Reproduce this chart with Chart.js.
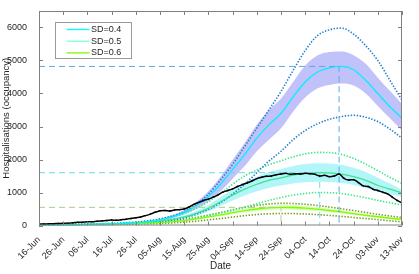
<!DOCTYPE html>
<html>
<head>
<meta charset="utf-8">
<script src="https://cdn.jsdelivr.net/npm/chart.js@4"></script>
<style>
  html, body { margin: 0; padding: 0; background: #fff; }
  #wrap { width: 419px; height: 274px; }
</style>
</head>
<body>
<div id="wrap"><canvas id="canvas" width="419" height="274"></canvas></div>
<script>
'use strict';

const dateLabels = ['16-Jun', '26-Jun', '06-Jul', '16-Jul', '26-Jul', '05-Aug', '15-Aug', '25-Aug',
  '04-Sep', '14-Sep', '24-Sep', '04-Oct', '14-Oct', '24-Oct', '03-Nov', '13-Nov'];
const dateTicks = [0, 10, 20, 30, 40, 50, 60, 70, 80, 90, 100, 110, 120, 130, 140, 150];
const yTicks = [0, 1000, 2000, 3000, 4000, 5000, 6000];

// days since 16-Jun
const modelDays = [0, 5, 10, 15, 20, 25, 30, 35, 40, 45, 50, 55, 60, 65, 70, 75, 80, 85, 90, 95,
  100, 105, 110, 115, 120, 125, 130, 135, 140, 145, 150];

const sd04Median = [20, 22, 25, 30, 35, 42, 50, 65, 85, 120, 170, 260, 400, 600, 880, 1250, 1700, 2150, 2650, 3050,
  3400, 3900, 4350, 4650, 4780, 4820, 4720, 4400, 4000, 3600, 3250];
const sd04BandHi = [22, 25, 28, 34, 40, 48, 58, 75, 100, 140, 200, 310, 470, 710, 1040, 1470, 1990, 2500, 3050, 3500,
  3850, 4350, 4850, 5150, 5260, 5270, 5160, 4900, 4480, 4080, 3680];
const sd04BandLo = [18, 20, 22, 26, 30, 36, 43, 55, 72, 100, 140, 215, 330, 500, 730, 1040, 1420, 1800, 2250, 2600,
  2950, 3450, 3880, 4150, 4260, 4300, 4240, 4000, 3620, 3250, 2880];
const sd04Upper = [22, 25, 28, 33, 40, 48, 60, 75, 100, 140, 200, 290, 420, 640, 950, 1380, 1850, 2400, 2950, 3500,
  4060, 4700, 5300, 5750, 5930, 5980, 5800, 5450, 5000, 4400, 3800];
const sd04Lower = [16, 18, 20, 22, 26, 30, 36, 45, 58, 80, 110, 160, 230, 340, 490, 690, 950, 1250, 1600, 1950,
  2250, 2600, 2880, 3080, 3220, 3300, 3340, 3280, 3150, 2920, 2650];

const sd05Median = [20, 22, 25, 28, 33, 40, 48, 60, 77, 100, 135, 185, 260, 370, 520, 720, 920, 1100, 1250, 1370,
  1440, 1530, 1580, 1600, 1595, 1560, 1480, 1370, 1220, 1100, 990];
const sd05BandHi = [22, 25, 28, 32, 38, 46, 56, 70, 90, 118, 160, 220, 310, 440, 620, 860, 1090, 1300, 1480, 1620,
  1710, 1800, 1860, 1885, 1880, 1840, 1750, 1620, 1450, 1270, 1080];
const sd05BandLo = [18, 20, 22, 25, 29, 35, 41, 51, 65, 85, 112, 155, 215, 305, 420, 590, 760, 910, 1040, 1140,
  1210, 1270, 1310, 1325, 1320, 1290, 1230, 1140, 1030, 950, 870];
const sd05Upper = [25, 28, 32, 37, 44, 53, 65, 82, 106, 140, 190, 265, 370, 520, 720, 980, 1250, 1500, 1680, 1840,
  1960, 2080, 2170, 2215, 2210, 2150, 2030, 1860, 1660, 1460, 1275];
const sd05Lower = [15, 17, 19, 21, 24, 28, 33, 40, 50, 65, 85, 115, 160, 220, 300, 390, 460, 560, 660, 760,
  850, 920, 970, 1000, 995, 970, 910, 840, 760, 690, 620];

const sd06Median = [18, 20, 22, 25, 29, 34, 40, 48, 58, 72, 90, 115, 150, 200, 260, 320, 390, 450, 500, 535,
  550, 545, 525, 495, 455, 410, 360, 310, 265, 220, 185];
const sd06BandHi = [20, 22, 25, 28, 32, 38, 45, 54, 65, 81, 101, 129, 168, 224, 291, 358, 437, 504, 560, 599,
  616, 610, 588, 554, 510, 459, 403, 347, 297, 246, 207];
const sd06BandLo = [16, 18, 19, 22, 26, 30, 35, 42, 51, 63, 79, 101, 132, 176, 229, 282, 343, 396, 440, 471,
  484, 480, 462, 436, 400, 361, 317, 273, 233, 194, 163];
const sd06Upper = [20, 23, 26, 30, 35, 41, 49, 59, 72, 89, 112, 143, 186, 245, 315, 390, 475, 550, 610, 652,
  670, 665, 642, 606, 560, 508, 452, 396, 340, 288, 243];
const sd06Lower = [14, 15, 17, 19, 22, 25, 29, 34, 41, 50, 62, 79, 101, 133, 170, 212, 255, 298, 332, 355,
  365, 362, 349, 330, 305, 276, 243, 210, 178, 143, 110];

const obsDays = [0, 2, 4, 6, 8, 10, 12, 14, 16, 18, 20, 22, 24, 26, 28, 30, 32, 34, 36, 38,
  40, 42, 44, 46, 48, 50, 52, 54, 56, 58, 60, 62, 64, 66, 68, 70, 72, 74, 76, 78,
  80, 82, 84, 86, 88, 90, 92, 94, 96, 98, 100, 102, 104, 106, 108, 110, 112, 114, 116, 118,
  120, 122, 124, 126, 128, 130, 132, 134, 136, 138, 140, 142, 144, 146, 148, 150];
const observed = [40, 45, 50, 55, 60, 65, 72, 85, 95, 100, 110, 115, 130, 140, 150, 165, 160, 175, 190, 210,
  235, 260, 300, 345, 400, 445, 455, 440, 470, 480, 500, 560, 640, 700, 760, 800, 860, 930, 1010, 1060,
  1110, 1180, 1240, 1290, 1350, 1420, 1460, 1490, 1500, 1540, 1560, 1580, 1550, 1570, 1560, 1580, 1570, 1550, 1500, 1520,
  1480, 1500, 1560, 1430, 1380, 1390, 1300, 1200, 1180, 1100, 1060, 1010, 960, 860, 760, 680];

// peak markers: day of peak and peak occupancy per scenario (SD=0.4, 0.5, 0.6)
const peakDays = [124, 116, 100];
const peakValues = [4820, 1600, 550];

const legendLabels = ['SD=0.4', 'SD=0.5', 'SD=0.6'];
const legendColors = ['#00ffff', '#7fffd4', '#7cfc00'];

const pts = (xs, ys) => xs.map((x, i) => ({ x: x, y: ys[i] }));

function band(lo, hi, fillColor) {
  return [
    { data: pts(modelDays, lo), borderWidth: 0, pointRadius: 0, fill: false, order: 5 },
    { data: pts(modelDays, hi), borderWidth: 0, pointRadius: 0, fill: '-1', backgroundColor: fillColor, order: 5 },
  ];
}
function dotted(vals, color) {
  return { data: pts(modelDays, vals), borderColor: color, borderWidth: 1.6, borderDash: [1.4, 1.6],
    pointRadius: 0, fill: false, order: 4 };
}
function median(vals, color) {
  return { data: pts(modelDays, vals), borderColor: color, borderWidth: 1.3, pointRadius: 0, fill: false, order: 3 };
}
function peakLine(i, color) {
  return { data: [{ x: 0, y: peakValues[i] }, { x: peakDays[i], y: peakValues[i] }, { x: peakDays[i], y: 0 }],
    borderColor: color, borderWidth: 1, borderDash: [6, 4], pointRadius: 0, fill: false, tension: 0, order: 2 };
}

const datasets = [].concat(
  band(sd04BandLo, sd04BandHi, 'rgba(120,120,245,0.45)'),
  band(sd05BandLo, sd05BandHi, 'rgba(0,225,240,0.3)'),
  band(sd06BandLo, sd06BandHi, 'rgba(124,252,0,0.28)'),
  [
    dotted(sd04Upper, '#1f7fd0'), dotted(sd04Lower, '#1f7fd0'),
    dotted(sd05Upper, '#3ce88a'), dotted(sd05Lower, '#3ce88a'),
    dotted(sd06Upper, '#7a9a1e'), dotted(sd06Lower, '#7a9a1e'),
    median(sd04Median, '#00f0ff'), median(sd05Median, '#40e08c'), median(sd06Median, '#7cfc00'),
    peakLine(0, '#5aaae6'), peakLine(1, '#6ad8e8'), peakLine(2, '#a8cc88'),
    { data: pts(obsDays, observed), borderColor: '#000', backgroundColor: '#000', borderWidth: 1.5,
      pointStyle: 'rect', pointRadius: 1, pointBorderWidth: 0, tension: 0, fill: false, order: 0 },
  ]
);

const AXIS = '#808080';
const TEXT = '#262626';
const FONT = "'Liberation Sans', Arial, sans-serif";

const frame = {
  id: 'frame',
  afterDraw(chart) {
    const { ctx, chartArea: a, scales } = chart;
    ctx.save();
    ctx.strokeStyle = AXIS;
    ctx.lineWidth = 1;
    ctx.strokeRect(a.left + 0.5, a.top + 0.5, a.right - a.left - 1, a.bottom - a.top - 1);
    ctx.beginPath();
    scales.x.ticks.forEach(t => {
      const x = Math.round(scales.x.getPixelForValue(t.value)) + 0.5;
      ctx.moveTo(x, a.bottom); ctx.lineTo(x, a.bottom - 4);
      ctx.moveTo(x, a.top); ctx.lineTo(x, a.top + 4);
    });
    scales.y.ticks.forEach(t => {
      const y = Math.round(scales.y.getPixelForValue(t.value)) + 0.5;
      ctx.moveTo(a.left, y); ctx.lineTo(a.left + 4, y);
      ctx.moveTo(a.right, y); ctx.lineTo(a.right - 4, y);
    });
    ctx.stroke();

    // y axis title, rotated; alphabetic baseline keeps descenders clear of the tick labels
    ctx.fillStyle = TEXT;
    ctx.font = '9.5px ' + FONT;
    ctx.textAlign = 'center';
    ctx.textBaseline = 'alphabetic';
    ctx.save();
    ctx.translate(9, (a.top + a.bottom) / 2);
    ctx.rotate(-Math.PI / 2);
    ctx.fillText('Hospitalisations (occupancy)', 0, 0);
    ctx.restore();

    // legend box
    ctx.fillStyle = '#fff';
    ctx.fillRect(55.5, 22.5, 76, 36);
    ctx.strokeStyle = '#9a9a9a';
    ctx.strokeRect(55.5, 22.5, 76, 36);
    ctx.font = '9px ' + FONT;
    ctx.textAlign = 'left';
    ctx.textBaseline = 'middle';
    ctx.fillStyle = TEXT;
    legendLabels.forEach((lab, i) => {
      const y = 29.5 + i * 11.7;
      ctx.strokeStyle = legendColors[i];
      ctx.lineWidth = 1.3;
      ctx.beginPath();
      ctx.moveTo(66.5, y); ctx.lineTo(89.5, y);
      ctx.stroke();
      ctx.fillText(lab, 91, y);
    });
    ctx.restore();
  },
};

new Chart(document.getElementById('canvas').getContext('2d'), {
  type: 'line',
  data: { datasets: datasets },
  options: {
    responsive: false,
    animation: false,
    events: [],
    elements: { line: { cubicInterpolationMode: 'monotone' } },
    layout: { padding: { top: 11, right: 17, left: 0, bottom: 0 } },
    plugins: { legend: { display: false }, tooltip: { enabled: false } },
    scales: {
      x: {
        type: 'linear', min: 0, max: 150,
        afterBuildTicks: s => { s.ticks = dateTicks.map(v => ({ value: v })); },
        afterFit: s => { s.height = 48.5; },
        grid: { display: false },
        border: { display: false },
        ticks: {
          autoSkip: false, minRotation: 45, maxRotation: 45, padding: 1,
          color: TEXT, font: { family: FONT, size: 9 },
          callback: v => dateLabels[dateTicks.indexOf(v)],
        },
        title: { display: true, text: 'Date', color: TEXT, font: { family: FONT, size: 10 }, padding: { top: 0, bottom: 2 } },
      },
      y: {
        type: 'linear', min: 0, max: 6500,
        afterBuildTicks: s => { s.ticks = yTicks.map(v => ({ value: v })); },
        afterFit: s => { s.width = 39; },
        grid: { display: false },
        border: { display: false },
        ticks: { autoSkip: false, padding: 4, color: TEXT, font: { family: FONT, size: 9 }, callback: v => String(v) },
        title: { display: false },
      },
    },
  },
  plugins: [frame],
});
</script>
</body>
</html>
